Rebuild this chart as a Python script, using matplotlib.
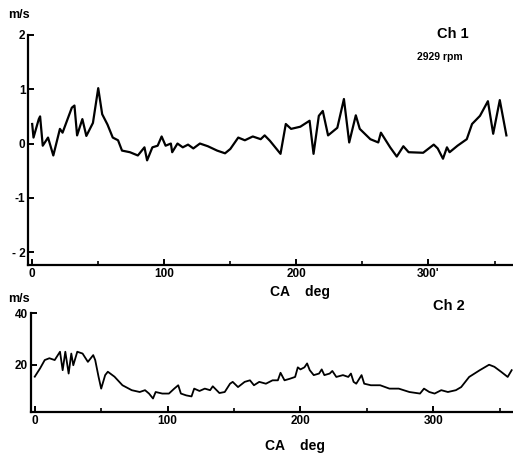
import numpy as np
import matplotlib.pyplot as plt

# Ch 1 velocity (m/s) vs crank angle
ca1 = [0, 1, 5, 6, 8, 12, 16, 21, 23, 30, 32, 34, 38, 41, 46, 50, 53, 57, 61, 65,
       68, 74, 80, 85, 87, 91, 95, 98, 101, 105, 106, 110, 114, 118, 122, 127, 133,
       140, 146, 150, 156, 161, 167, 173, 176, 180, 188, 192, 196, 203, 210, 213,
       217, 220, 224, 231, 236, 240, 245, 248, 256, 262, 264, 271, 276, 281, 285,
       296, 304, 307, 311, 314, 316, 322, 329, 333, 339, 345, 349, 354, 359]
v1 = [0.36, 0.11, 0.45, 0.5, -0.04, 0.11, -0.22, 0.27, 0.2, 0.66, 0.7, 0.15, 0.45,
      0.14, 0.38, 1.02, 0.54, 0.35, 0.11, 0.06, -0.13, -0.16, -0.22, -0.07, -0.31,
      -0.07, -0.04, 0.13, -0.04, 0.0, -0.16, 0.0, -0.07, -0.02, -0.09, 0.0, -0.05,
      -0.13, -0.18, -0.1, 0.11, 0.06, 0.13, 0.08, 0.15, 0.05, -0.19, 0.36, 0.27,
      0.31, 0.42, -0.19, 0.51, 0.6, 0.15, 0.29, 0.82, 0.02, 0.52, 0.27, 0.08, 0.02,
      0.2, -0.07, -0.24, -0.05, -0.16, -0.17, -0.02, -0.09, -0.28, -0.07, -0.16,
      -0.04, 0.08, 0.36, 0.51, 0.78, 0.18, 0.8, 0.15]

# Ch 2 velocity (m/s) vs crank angle
ca2 = [0, 4, 7.5, 11, 15, 19, 21, 23, 25.5, 27.5, 29, 32, 36, 40, 44, 45.5, 48, 50,
       53, 55, 60, 66, 73, 79, 83, 86, 89, 91, 96, 101, 105, 108, 110, 114, 118,
       120, 124, 128, 132, 134, 139, 143, 147, 149, 153, 158, 162, 165, 169, 174,
       179, 183, 185, 188, 192, 196, 198, 200, 203, 205, 207, 210, 214, 216, 218,
       222, 224, 227, 232, 236, 238, 240, 242, 246, 248, 253, 260, 267, 274, 282,
       290, 293, 297, 301, 306, 311, 317, 321, 327, 335, 342, 346, 351, 356, 359]
v2 = [15.5, 18.7, 21.9, 22.6, 21.9, 25.1, 18, 25.1, 16.7, 24.4, 19.9, 25.1, 24.4,
      21.2, 23.8, 21.9, 15.5, 10.9, 16.1, 17.4, 15.5, 12.2, 10.3, 9.6, 10.3, 9.0,
      7.1, 9.6, 9.0, 9.0, 10.9, 12.2, 9.0, 8.3, 7.9, 10.9, 10.0, 10.9, 10.3, 11.8,
      9.2, 9.6, 12.8, 13.5, 11.5, 13.5, 14.1, 12.2, 13.5, 12.8, 14.1, 14.1, 17.0,
      14.1, 14.7, 15.4, 19.1, 18.3, 19.1, 20.6, 18.0, 16.1, 16.7, 18.3, 16.1, 16.7,
      17.7, 15.4, 16.1, 15.4, 16.7, 13.5, 12.8, 16.1, 12.8, 12.2, 12.2, 10.9, 10.9,
      9.6, 9.0, 10.9, 9.6, 9.0, 10.3, 9.6, 10.3, 11.5, 15.4, 18.0, 20.1, 19.3, 17.4,
      15.4, 18.0]

xticks = [0, 100, 200, 300]
xlabels = ['0', '100', '200', '300\'']
xlabels2 = ['0', '100', '200', '300']

plt.rcParams['font.family'] = ['Liberation Sans', 'DejaVu Sans']
plt.rcParams['font.weight'] = 'bold'

fig = plt.figure(figsize=(5.13, 4.54), dpi=100)

def estilo(ax):
    for s in ['top', 'right']:
        ax.spines[s].set_visible(False)
    for s in ['left', 'bottom']:
        ax.spines[s].set_linewidth(1.6)
    ax.tick_params(direction='in', length=4, width=1.4, labelsize=8.5, pad=2)
    ax.set_xticks(np.arange(0, 360, 50), minor=True)
    ax.tick_params(which='minor', direction='in', length=3, width=1.2)

# Grafica superior
ax1 = fig.add_axes([0.055, 0.416, 0.945, 0.507])
ax1.plot(ca1, v1, color='black', lw=1.6)
ax1.set_xlim(-3, 364)
ax1.set_ylim(-2.24, 2.0)
ax1.set_yticks([-2, -1, 0, 1, 2])
ax1.set_yticklabels(['- 2', '-1', '0', '1', '2'])
ax1.set_xticks(xticks)
ax1.set_xticklabels(xlabels)
estilo(ax1)

# Grafica inferior
ax2 = fig.add_axes([0.060, 0.0925, 0.940, 0.218])
ax2.plot(ca2, v2, color='black', lw=1.3)
ax2.set_xlim(-3, 360)
ax2.set_ylim(1.9, 40)
ax2.set_yticks([20, 40])
ax2.set_xticks(xticks)
ax2.set_xticklabels(xlabels2)
estilo(ax2)

# Textos
fig.text(0.015, 0.967, 'm/s', fontsize=9, fontweight='bold', va='center')
fig.text(0.015, 0.342, 'm/s', fontsize=9, fontweight='bold', va='center')
fig.text(0.883, 0.925, 'Ch 1', fontsize=10.5, fontweight='bold', ha='center', va='center')
fig.text(0.857, 0.874, '2929 rpm', fontsize=7.5, fontweight='bold', ha='center', va='center')
fig.text(0.875, 0.326, 'Ch 2', fontsize=10.5, fontweight='bold', ha='center', va='center')
fig.text(0.585, 0.357, 'CA    deg', fontsize=10, fontweight='bold', ha='center', va='center')
fig.text(0.575, 0.018, 'CA    deg', fontsize=10, fontweight='bold', ha='center', va='center')

plt.savefig('out.png', dpi=100)
